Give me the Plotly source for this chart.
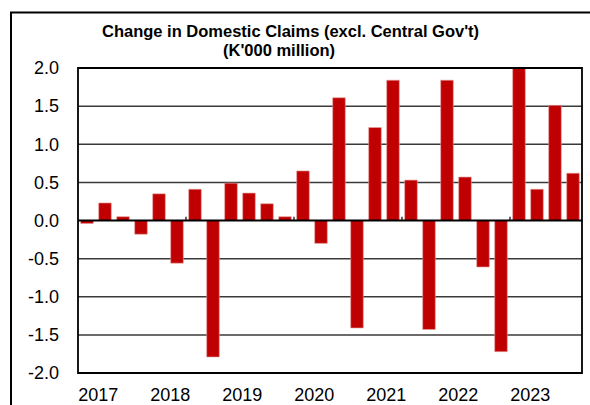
import plotly.graph_objects as go

years = ["2017", "2018", "2019", "2020", "2021", "2022", "2023"]
values = [-0.04, 0.23, 0.05, -0.18, 0.35, -0.56, 0.41, -1.79,
          0.49, 0.36, 0.22, 0.05, 0.65, -0.30, 1.61, -1.41,
          1.22, 1.84, 0.53, -1.43, 1.84, 0.57, -0.61, -1.72,
          2.00, 0.41, 1.51, 0.62]
positions = list(range(len(values)))
year_label_pos = [0.62 + 4 * k for k in range(len(years))]
minor_tick_pos = [5.5, 11.5, 17.5, 23.5]
title_lines = ["Change in Domestic Claims (excl. Central Gov't)", "(K'000 million)"]

L, R, T, B = 78, 8, 68, 32
W, H = 590, 405
pw, ph = W - L - R, H - T - B

def px_x(p):
    return (p - L) / pw

def px_y(p):
    return (H - B - p) / ph

fig = go.Figure()
fig.add_trace(go.Bar(
    x=positions, y=values,
    marker=dict(color="#C00000", line=dict(color="#E8A0A0", width=0.6)),
    width=0.7,
))

shapes = []
for v in [-1.5, -1.0, -0.5, 0.5, 1.0, 1.5]:
    shapes.append(dict(type="line", xref="paper", yref="y", x0=0, x1=1, y0=v, y1=v,
                       line=dict(color="#3a3a3a", width=1.5), layer="below"))
shapes.append(dict(type="line", xref="paper", yref="y", x0=0, x1=1, y0=0, y1=0,
                   line=dict(color="black", width=2.2), layer="above"))
for p in minor_tick_pos:
    shapes.append(dict(type="line", xref="x", yref="y", x0=p, x1=p, y0=0, y1=0.05,
                       line=dict(color="black", width=1.2)))
shapes.append(dict(type="rect", xref="paper", yref="paper", x0=0, x1=1, y0=0, y1=1,
                   line=dict(color="black", width=1.8)))
shapes.append(dict(type="rect", xref="paper", yref="paper",
                   x0=px_x(11), x1=px_x(610), y0=px_y(430), y1=px_y(12.5),
                   line=dict(color="black", width=2)))

annotations = []
for txt, ypx, xpx in [(title_lines[0], 31.5, 290), (title_lines[1], 50, 279)]:
    annotations.append(dict(
        text="<b>" + txt + "</b>", xref="paper", yref="paper",
        x=px_x(xpx), y=px_y(ypx), xanchor="center", yanchor="middle",
        showarrow=False, font=dict(size=16.5, color="black"),
    ))

fig.update_layout(
    width=W, height=H,
    margin=dict(l=L, r=R, t=T, b=B, autoexpand=False),
    paper_bgcolor="white", plot_bgcolor="white",
    showlegend=False,
    font=dict(family="Liberation Sans, Arial, sans-serif", color="black"),
    shapes=shapes,
    annotations=annotations,
    xaxis=dict(
        range=[-0.5, len(values) - 0.5],
        tickmode="array", tickvals=year_label_pos, ticktext=years,
        showgrid=False, zeroline=False, showline=False, ticks="",
        tickfont=dict(size=18), ticklabelstandoff=9, automargin=False,
        fixedrange=True,
    ),
    yaxis=dict(
        range=[-2.0, 2.0],
        tickmode="array", tickvals=[-2.0, -1.5, -1.0, -0.5, 0.0, 0.5, 1.0, 1.5, 2.0],
        ticktext=["-2.0", "-1.5", "-1.0", "-0.5", "0.0", "0.5", "1.0", "1.5", "2.0"],
        showgrid=False, zeroline=False, showline=False, ticks="",
        tickfont=dict(size=18), ticklabelstandoff=18, automargin=False,
        fixedrange=True,
    ),
)

fig.write_html("out.html", config={"displayModeBar": False},
               post_script="document.body.style.margin='0px';")
